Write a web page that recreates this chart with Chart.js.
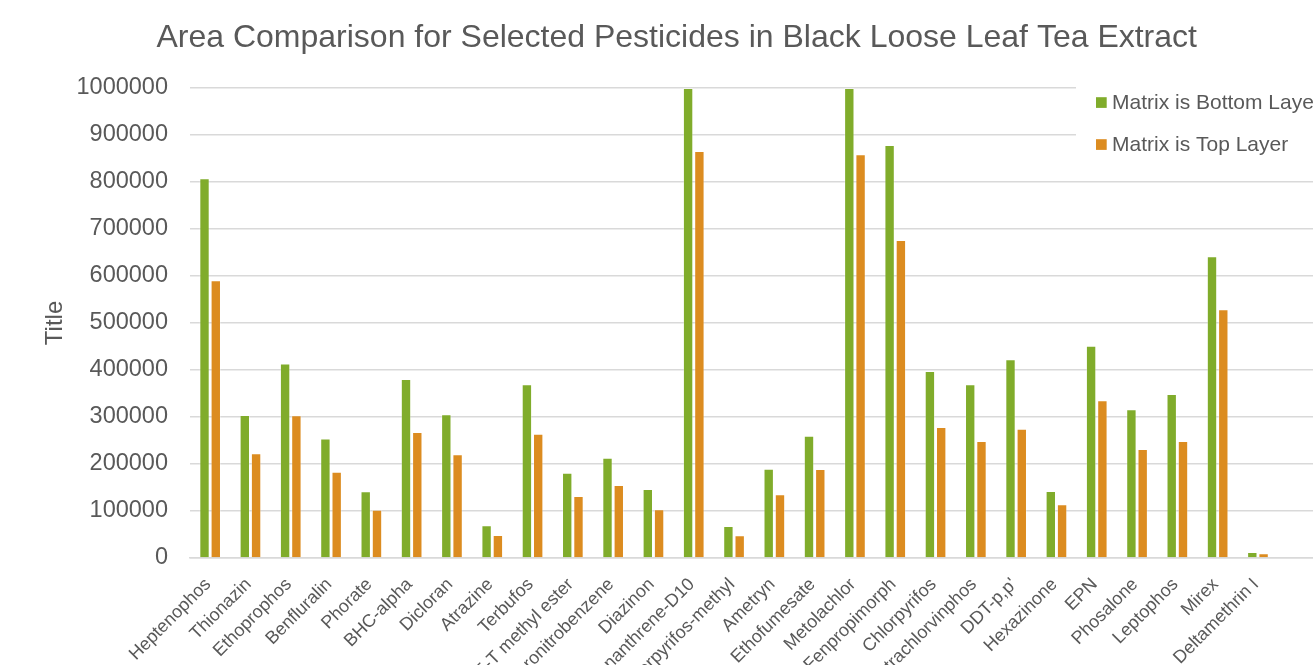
<!DOCTYPE html>
<html>
<head>
<meta charset="utf-8">
<title>Area Comparison</title>
<script src="https://cdn.jsdelivr.net/npm/chart.js@4.4.1/dist/chart.umd.min.js"></script>
<style>
  html, body { margin: 0; padding: 0; background: #fff; overflow: hidden; }
  #wrap { width: 1313px; height: 665px; overflow: hidden; }
</style>
</head>
<body>
<div id="wrap">
  <canvas id="canvas" width="1400" height="665"></canvas>
</div>
<script>
'use strict';

// last category is blank in the sheet, it only widens the plot
var categories = ['Heptenophos', 'Thionazin', 'Ethoprophos', 'Benfluralin', 'Phorate', 'BHC-alpha',
  'Dicloran', 'Atrazine', 'Terbufos', '2,4,5-T methyl ester', 'Pentachloronitrobenzene', 'Diazinon',
  'Phenanthrene-D10', 'Chlorpyrifos-methyl', 'Ametryn', 'Ethofumesate', 'Metolachlor', 'Fenpropimorph',
  'Chlorpyrifos', 'Tetrachlorvinphos', "DDT-p,p'", 'Hexazinone', 'EPN', 'Phosalone', 'Leptophos',
  'Mirex', 'Deltamethrin I', ''];

var bottomLayer = [808000, 304000, 414000, 254000, 142000, 381000, 306000, 69600, 369600, 181500,
  213500, 146800, 1000000, 68100, 190000, 260200, 1000000, 878700, 397900, 369600, 422700, 142600,
  451800, 316400, 349000, 641900, 12800, null];

var topLayer = [591000, 222700, 303600, 183700, 102800, 268000, 220600, 49000, 264500, 132000,
  155300, 103600, 866000, 48200, 135500, 189400, 858900, 676600, 278700, 248900, 275200, 114200,
  335500, 232000, 249000, 529000, 10000, null];

var seriesNames = ['Matrix is Bottom Layer', 'Matrix is Top Layer'];
var yTicks = [0, 100000, 200000, 300000, 400000, 500000, 600000, 700000, 800000, 900000, 1000000];

var green = '#80ac2b';
var orange = '#dc8c20';
var textGrey = '#595959';
var gridGrey = '#d9d9d9';
var fontName = '"Liberation Sans", Arial, sans-serif';

// legend sits inside the plot on a white box, like the sheet
var boxLegend = {
  id: 'boxLegend',
  afterDraw: function (chart) {
    var ctx = chart.ctx;
    var sets = chart.data.datasets;
    ctx.save();
    ctx.fillStyle = '#ffffff';
    ctx.fillRect(1076, 64, 330, 100);
    ctx.font = '21px ' + fontName;
    ctx.textBaseline = 'middle';
    ctx.textAlign = 'left';
    for (var i = 0; i < sets.length; i++) {
      var y = 102.5 + i * 42;
      ctx.fillStyle = sets[i].backgroundColor;
      ctx.fillRect(1096, y - 5.3, 10.7, 10.7);
      ctx.fillStyle = textGrey;
      ctx.fillText(sets[i].label, 1112, y + 1);
    }
    ctx.restore();
  }
};

var ctx = document.getElementById('canvas').getContext('2d');

var chartStuff = {
  type: 'bar',
  data: {
    labels: categories,
    datasets: [{
      label: seriesNames[0],
      data: bottomLayer,
      backgroundColor: green,
      borderColor: 'rgba(255,255,255,0.3)',
      borderWidth: 1,
      categoryPercentage: 0.56,
      barPercentage: 0.92
    }, {
      label: seriesNames[1],
      data: topLayer,
      backgroundColor: orange,
      borderColor: 'rgba(255,255,255,0.3)',
      borderWidth: 1,
      categoryPercentage: 0.56,
      barPercentage: 0.92
    }]
  },
  options: {
    responsive: false,
    animation: false,
    devicePixelRatio: 1,
    layout: {
      padding: { left: 35, right: 81.6, top: 0, bottom: 0 }
    },
    plugins: {
      legend: { display: false },
      tooltip: { enabled: false },
      title: {
        display: true,
        text: 'Area Comparison for Selected Pesticides in Black Loose Leaf Tea Extract',
        color: textGrey,
        font: { family: fontName, size: 32, weight: 'normal', lineHeight: 1.2 },
        padding: { top: 19, bottom: 30.6 }
      }
    },
    scales: {
      x: {
        grid: { display: false, drawTicks: false },
        border: { display: true, color: gridGrey, width: 1.5 },
        ticks: {
          color: textGrey,
          font: { family: fontName, size: 18 },
          autoSkip: false,
          minRotation: 45,
          maxRotation: 45,
          padding: 16,
          labelOffset: -2
        },
        afterFit: function (scale) {
          scale.height = 107;
        }
      },
      y: {
        min: 0,
        max: 1000000,
        grid: { color: gridGrey, lineWidth: 1.5, drawTicks: false },
        border: { display: false },
        afterBuildTicks: function (scale) {
          scale.ticks = yTicks.map(function (v) { return { value: v }; });
        },
        ticks: {
          color: textGrey,
          font: { family: fontName, size: 23.5 },
          padding: 22,
          callback: function (value) { return String(value); }
        },
        title: {
          display: true,
          text: 'Title',
          color: textGrey,
          font: { family: fontName, size: 24 },
          padding: { top: 5.6, bottom: 6.6 }
        },
        afterFit: function (scale) {
          scale.width = 155;
        }
      }
    }
  },
  plugins: [boxLegend]
};

var barChart = new Chart(ctx, chartStuff);
</script>
</body>
</html>
